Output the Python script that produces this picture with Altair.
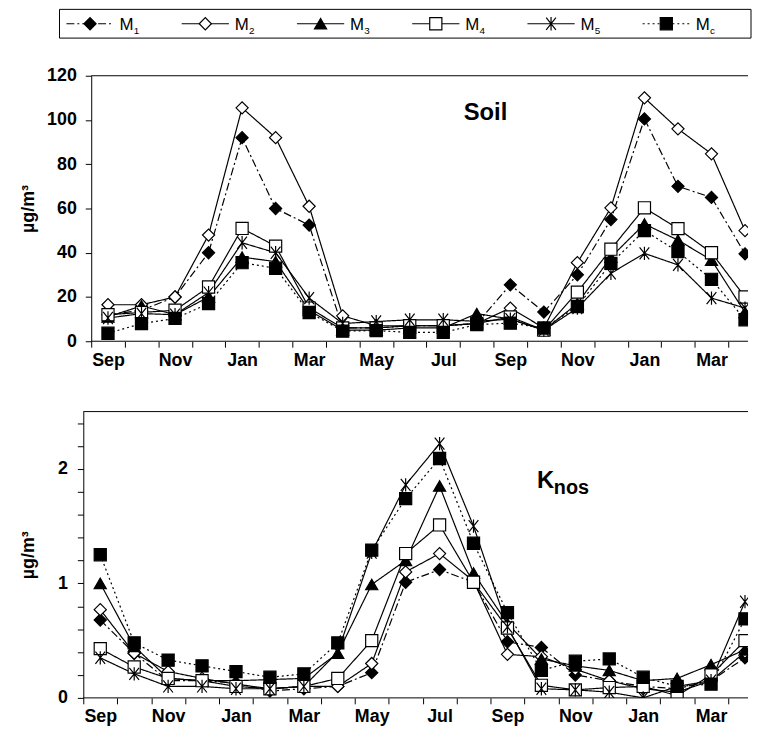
import altair as alt
import pandas as pd

FONT = "Liberation Sans"

months = ["Sep", "Oct", "Nov", "Dec", "Jan", "Feb", "Mar", "Apr", "May", "Jun",
          "Jul", "Aug", "Sep", "Oct", "Nov", "Dec", "Jan", "Feb", "Mar", "Apr"]
series = ["M1", "M2", "M3", "M4", "M5", "Mc"]
subscripts = ["1", "2", "3", "4", "5", "c"]

# Soil (µg/m3)
soil_m1 = [12, 14, 20, 40, 92, 60, 52.5, 6, 6, 7, 7, 8, 25.5, 13.2, 30, 55, 100.5, 70, 65, 39.5]
soil_m2 = [16.5, 16.5, 20, 48, 105.5, 92, 61, 11.5, 7, 7, 7, 8, 15, 6, 35.5, 60.3, 110, 96, 84.7, 50]
soil_m3 = [11, 16, 12, 20, 38, 36, 14, 5, 5, 6, 6, 12.5, 10, 5, 17, 38, 53, 45.7, 36.7, 13]
soil_m4 = [12, 13, 14, 24.5, 51, 43, 15, 6, 6, 7, 7, 8, 11, 5, 22.2, 41.6, 60.3, 50.9, 40, 20]
soil_m5 = [10.5, 12.5, 12, 22, 44.5, 40, 19.5, 8, 8.9, 9.7, 9.7, 9, 10, 5, 15, 30.7, 39.7, 34.5, 19.5, 15]
soil_mc = [3.6, 8, 10.3, 17, 35.5, 33, 13, 4.6, 4.8, 4, 4, 7.5, 8.2, 6, 15.7, 35.2, 50, 40.5, 28, 9.7]

# Knos (µg/m3)
knos_m1 = [0.68, 0.39, 0.15, 0.15, 0.13, 0.06, 0.08, 0.10, 0.22, 1.01, 1.12, 1.01, 0.49, 0.44, 0.20, 0.15, 0.10, 0.08, 0.15, 0.35]
knos_m2 = [0.77, 0.39, 0.23, 0.17, 0.12, 0.08, 0.10, 0.10, 0.30, 1.10, 1.26, 1.02, 0.38, 0.36, 0.25, 0.15, 0.08, 0.05, 0.15, 0.40]
knos_m3 = [1.00, 0.45, 0.17, 0.15, 0.15, 0.16, 0.17, 0.39, 0.99, 1.20, 1.85, 1.09, 0.65, 0.34, 0.28, 0.24, 0.15, 0.17, 0.29, 0.42]
knos_m4 = [0.43, 0.27, 0.17, 0.15, 0.10, 0.08, 0.10, 0.17, 0.50, 1.26, 1.51, 1.01, 0.61, 0.11, 0.07, 0.09, 0.10, 0.02, 0.20, 0.50]
knos_m5 = [0.35, 0.21, 0.10, 0.10, 0.08, 0.08, 0.10, 0.40, 1.27, 1.86, 2.22, 1.50, 0.62, 0.08, 0.07, 0.05, 0.00, 0.10, 0.15, 0.84]
knos_mc = [1.25, 0.48, 0.33, 0.28, 0.23, 0.18, 0.21, 0.48, 1.29, 1.74, 2.09, 1.35, 0.745, 0.24, 0.32, 0.34, 0.18, 0.10, 0.12, 0.69]


def long_table(cols):
    rows = []
    for s, vals in zip(series, cols):
        for i, v in enumerate(vals):
            rows.append({"series": s, "i": i, "month": months[i], "value": v})
    return pd.DataFrame(rows)


soil_df = long_table([soil_m1, soil_m2, soil_m3, soil_m4, soil_m5, soil_mc])
knos_df = long_table([knos_m1, knos_m2, knos_m3, knos_m4, knos_m5, knos_mc])

shape_scale = alt.Scale(domain=series, range=[
    "diamond", "diamond", "triangle-up", "square",
    "M-0.8,-1L0.8,1M0.8,-1L-0.8,1M0,-1.1L0,1.1", "square"])
fill_scale = alt.Scale(domain=series, range=["black", "white", "black", "white", "white", "black"])
dash_scale = alt.Scale(domain=series, range=[[8, 3, 2, 3], [1, 0], [1, 0], [1, 0], [1, 0], [2, 3]])
size_scale = alt.Scale(domain=series, range=[150, 150, 150, 140, 150, 185])

month_arr = "[" + ",".join("'" + m + "'" for m in months) + "]"
label_expr = f"(datum.value + 0.5) % 2 == 0 ? {month_arr}[datum.value + 0.5] : ''"
x_tick_values = [k - 0.5 for k in range(20)]
X_MAX = 19.09
LABEL_SIZE = 18
PANEL_W = 671


def panel(df, height, inset, ydomain, yvalues, ylabel_expr, title_pad, label_pad, annotation):
    # inset: pixels between the panel origin and its y axis
    band = (PANEL_W - inset) / (X_MAX + 0.5)
    x_min = -0.5 - inset / band
    x = alt.X("i:Q",
              scale=alt.Scale(domain=[x_min, X_MAX], nice=False, zero=False),
              axis=alt.Axis(values=x_tick_values, labelExpr=label_expr, labelOffset=band / 2,
                            title=None, grid=False, tickSize=6, labelPadding=4, domain=False,
                            labelFontSize=LABEL_SIZE, labelFontWeight="bold", labelFont=FONT,
                            labelFlush=False, labelBound=False, labelOverlap=False))
    y = alt.Y("value:Q",
              scale=alt.Scale(domain=ydomain, nice=False, zero=True),
              axis=alt.Axis(values=yvalues, labelExpr=ylabel_expr, title="µg/m³",
                            offset=-inset,
                            titleFont=FONT, titleFontSize=18, titleFontWeight="bold",
                            titlePadding=title_pad, grid=False, tickSize=6, labelPadding=label_pad,
                            labelFontSize=LABEL_SIZE, labelFontWeight="bold", labelFont=FONT))
    lines = alt.Chart(df).mark_line(color="black", strokeWidth=1.2, clip=True).encode(
        x=x, y=y,
        strokeDash=alt.StrokeDash("series:N", scale=dash_scale, legend=None),
        detail="series:N")
    pts = alt.Chart(df).mark_point(filled=True, stroke="black", strokeWidth=1.2,
                                   opacity=1, clip=True).encode(
        x=x, y=y,
        shape=alt.Shape("series:N", scale=shape_scale, legend=None),
        fill=alt.Fill("series:N", scale=fill_scale, legend=None),
        size=alt.Size("series:N", scale=size_scale, legend=None))
    one = pd.DataFrame({"k": [0]})
    top_rule = alt.Chart(one).mark_rule(color="black", strokeWidth=1).encode(
        x=alt.value(inset), x2=alt.value(PANEL_W), y=alt.value(0))
    base_rule = alt.Chart(one).mark_rule(color="black", strokeWidth=1).encode(
        x=alt.value(inset), x2=alt.value(PANEL_W), y=alt.value(height))
    layers = [lines, pts, top_rule, base_rule] + annotation(one)
    return alt.layer(*layers).properties(width=PANEL_W, height=height)


def soil_text(one):
    return [alt.Chart(one).mark_text(text="Soil", fontSize=24, fontWeight="bold", font=FONT,
                                     align="center", baseline="middle").encode(
        x=alt.value(406), y=alt.value(38))]


def knos_text(one):
    return [
        alt.Chart(one).mark_text(text="K", fontSize=24, fontWeight="bold", font=FONT,
                                 align="left", baseline="alphabetic").encode(
            x=alt.value(458), y=alt.value(77)),
        alt.Chart(one).mark_text(text="nos", fontSize=20, fontWeight="bold", font=FONT,
                                 align="left", baseline="alphabetic").encode(
            x=alt.value(475), y=alt.value(83)),
    ]


top = panel(soil_df, 268, 8, [0, 120], list(range(0, 121, 20)), "datum.value",
            9, 9, soil_text)
knos_ticks = [round(k * 0.2, 1) for k in range(13)]
bottom = panel(knos_df, 289, 0, [0, 2.5], knos_ticks,
               "datum.value % 1 == 0 ? format(datum.value, 'd') : ''", 20, 10, knos_text)

# Legend (drawn from the series list through its own entry scale)
LEG_UNIT = 698 / 6
LEG_START = 24 / LEG_UNIT
legend_df = pd.DataFrame({"series": series, "sub": subscripts, "k": list(range(6))})
lx_scale = alt.Scale(domain=[LEG_START, LEG_START + PANEL_W / LEG_UNIT], nice=False, zero=False)
base = alt.Chart(legend_df).transform_calculate(
    x0="datum.k + 0.06", x1="datum.k + 0.47", xm="datum.k + 0.265", xt="datum.k + 0.52")
leg_box = alt.Chart(pd.DataFrame({"a": [0.0], "b": [6.0]})).mark_rect(
    filled=False, stroke="black", strokeWidth=1).encode(
    x=alt.X("a:Q", scale=lx_scale, axis=None), x2="b:Q", y=alt.value(0), y2=alt.value(29))
leg_lines = base.mark_rule(color="black", strokeWidth=1.2).encode(
    x=alt.X("x0:Q", scale=lx_scale, axis=None), x2="x1:Q", y=alt.value(14.5),
    strokeDash=alt.StrokeDash("series:N", scale=dash_scale, legend=None))
leg_pts = base.mark_point(filled=True, stroke="black", strokeWidth=1.2, opacity=1).encode(
    x=alt.X("xm:Q", scale=lx_scale, axis=None), y=alt.value(14.5),
    shape=alt.Shape("series:N", scale=shape_scale, legend=None),
    fill=alt.Fill("series:N", scale=fill_scale, legend=None),
    size=alt.Size("series:N", scale=size_scale, legend=None))
leg_m = base.mark_text(text="M", fontSize=17, font=FONT, align="left",
                       baseline="alphabetic").encode(
    x=alt.X("xt:Q", scale=lx_scale, axis=None), y=alt.value(21))
leg_sub = base.mark_text(fontSize=10, font=FONT, align="left", baseline="alphabetic",
                         dx=14.5).encode(
    x=alt.X("xt:Q", scale=lx_scale, axis=None), y=alt.value(25), text="sub:N")
legend = alt.layer(leg_box, leg_lines, leg_pts, leg_m, leg_sub).properties(
    width=PANEL_W, height=29)

plots = alt.concat(top, bottom, columns=1, spacing=41)
chart = alt.concat(legend, plots, columns=1, spacing=27).properties(
    padding={"left": 11, "top": -3, "right": 0, "bottom": -4}
).configure_view(stroke="transparent").configure_axis(
    domainColor="black", tickColor="black", labelColor="black", titleColor="black",
    domainWidth=1, tickWidth=1)

chart.save("out.html", embed_options={"renderer": "svg", "actions": False})
